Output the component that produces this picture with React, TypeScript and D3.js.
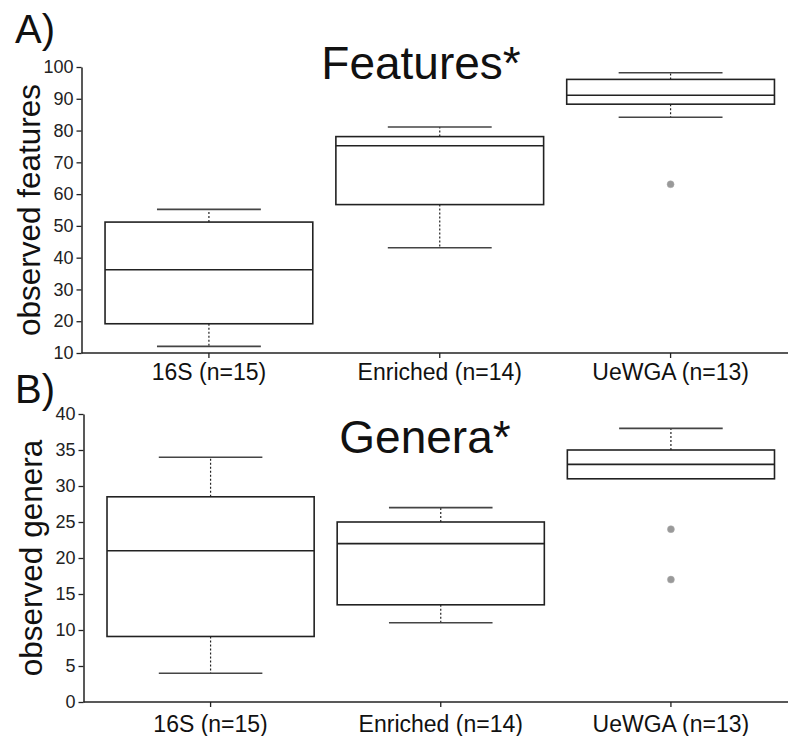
import React, { useEffect, useRef } from "react";
import * as d3 from "d3";

const categories = ["16S (n=15)", "Enriched (n=14)", "UeWGA (n=13)"];

// Panel A: observed features  [whiskerLow, q1, median, q3, whiskerHigh]
const featuresStats = [
  [12.1, 19.2, 36.2, 51.2, 55.2],
  [43.1, 56.7, 75.2, 78.1, 81.1],
  [84.2, 88.3, 91.1, 96.1, 98.2],
];
const featuresOutliers = [[], [], [63.1]];
const featuresTicks = [10, 20, 30, 40, 50, 60, 70, 80, 90, 100];

// Panel B: observed genera
const generaStats = [
  [4, 9.1, 21, 28.5, 34],
  [11, 13.5, 22, 25, 27],
  [31, 31, 33, 35, 38],
];
const generaOutliers = [[], [], [24, 17]];
const generaTicks = [0, 5, 10, 15, 20, 25, 30, 35, 40];

const FONT = "'Liberation Sans', Arial, Helvetica, sans-serif";

type Panel = {
  letter: string;
  letterY: number;
  title: string;
  titleX: number;
  titleY: number;
  ylabel: string;
  ylabelX: number;
  stats: number[][];
  outliers: number[][];
  ticks: number[];
  domain: [number, number];
  yRange: [number, number];
  axisX: number;
  catLabelY: number;
};

const panels: Panel[] = [
  {
    letter: "A)",
    letterY: 43,
    title: "Features*",
    titleX: 421,
    titleY: 79,
    ylabel: "observed features",
    ylabelX: 40,
    stats: featuresStats,
    outliers: featuresOutliers,
    ticks: featuresTicks,
    domain: [10, 100],
    yRange: [353, 67],
    axisX: 81.5,
    catLabelY: 380,
  },
  {
    letter: "B)",
    letterY: 403,
    title: "Genera*",
    titleX: 425,
    titleY: 453,
    ylabel: "observed genera",
    ylabelX: 42,
    stats: generaStats,
    outliers: generaOutliers,
    ticks: generaTicks,
    domain: [0, 40],
    yRange: [702, 414],
    axisX: 83.5,
    catLabelY: 732,
  },
];

export default function App() {
  const ref = useRef<SVGSVGElement | null>(null);

  useEffect(() => {
    const svg = d3.select(ref.current);
    svg.selectAll("*").remove();

    panels.forEach((p) => {
      const g = svg.append("g");
      const y = d3.scaleLinear().domain(p.domain).range(p.yRange);
      const x = d3
        .scaleBand()
        .domain(categories)
        .range([p.axisX + 12, 786])
        .paddingInner(0.1)
        .paddingOuter(0.05);
      const bw = x.bandwidth();
      const cx = (c: string) => (x(c) as number) + bw / 2;

      // y axis
      const yAxis = d3
        .axisLeft(y)
        .tickValues(p.ticks)
        .tickSize(5)
        .tickPadding(3)
        .tickSizeOuter(0);
      const ya = g
        .append("g")
        .attr("transform", `translate(${p.axisX},0)`)
        .call(yAxis);
      ya.select(".domain").attr("stroke", "#222").attr("stroke-width", 1.5);
      ya.selectAll(".tick line").attr("stroke", "#222").attr("stroke-width", 1.3);
      ya.selectAll(".tick text")
        .attr("font-family", FONT)
        .attr("font-size", 18)
        .attr("fill", "#222");

      // x axis
      const xAxisY = p.yRange[0];
      g.append("line")
        .attr("x1", p.axisX)
        .attr("x2", 788)
        .attr("y1", xAxisY)
        .attr("y2", xAxisY)
        .attr("stroke", "#222")
        .attr("stroke-width", 1.5);
      categories.forEach((c) => {
        g.append("line")
          .attr("x1", cx(c))
          .attr("x2", cx(c))
          .attr("y1", xAxisY)
          .attr("y2", xAxisY + 5)
          .attr("stroke", "#222")
          .attr("stroke-width", 1.3);
        g.append("text")
          .attr("x", cx(c))
          .attr("y", p.catLabelY)
          .attr("text-anchor", "middle")
          .attr("font-family", FONT)
          .attr("font-size", 23)
          .attr("fill", "#111")
          .text(c);
      });

      // boxes
      categories.forEach((c, i) => {
        const [lo, q1, med, q3, hi] = p.stats[i];
        const x0 = x(c) as number;
        const mid = cx(c);
        // whiskers
        if (hi > q3) {
          g.append("line")
            .attr("x1", mid).attr("x2", mid)
            .attr("y1", y(q3)).attr("y2", y(hi))
            .attr("stroke", "#222").attr("stroke-width", 1.2)
            .attr("stroke-dasharray", "2,2");
          g.append("line")
            .attr("x1", mid - bw / 4).attr("x2", mid + bw / 4)
            .attr("y1", y(hi)).attr("y2", y(hi))
            .attr("stroke", "#444").attr("stroke-width", 1.6);
        }
        if (lo < q1) {
          g.append("line")
            .attr("x1", mid).attr("x2", mid)
            .attr("y1", y(q1)).attr("y2", y(lo))
            .attr("stroke", "#222").attr("stroke-width", 1.2)
            .attr("stroke-dasharray", "2,2");
          g.append("line")
            .attr("x1", mid - bw / 4).attr("x2", mid + bw / 4)
            .attr("y1", y(lo)).attr("y2", y(lo))
            .attr("stroke", "#444").attr("stroke-width", 1.6);
        }
        g.append("rect")
          .attr("x", x0)
          .attr("y", y(q3))
          .attr("width", bw)
          .attr("height", y(q1) - y(q3))
          .attr("fill", "white")
          .attr("stroke", "#222")
          .attr("stroke-width", 1.6);
        g.append("line")
          .attr("x1", x0).attr("x2", x0 + bw)
          .attr("y1", y(med)).attr("y2", y(med))
          .attr("stroke", "#222").attr("stroke-width", 1.6);
        p.outliers[i].forEach((v) => {
          g.append("circle")
            .attr("cx", mid)
            .attr("cy", y(v))
            .attr("r", 3.5)
            .attr("fill", "#999")
            .attr("stroke", "#aaa")
            .attr("stroke-width", 0.5);
        });
      });

      // y label
      g.append("text")
        .attr("transform", `translate(${p.ylabelX},${(p.yRange[0] + p.yRange[1]) / 2}) rotate(-90)`)
        .attr("text-anchor", "middle")
        .attr("font-family", FONT)
        .attr("font-size", 31.5)
        .attr("fill", "#111")
        .text(p.ylabel);

      // title
      g.append("text")
        .attr("x", p.titleX)
        .attr("y", p.titleY)
        .attr("text-anchor", "middle")
        .attr("font-family", FONT)
        .attr("font-size", 46)
        .attr("fill", "#111")
        .text(p.title);

      // panel letter
      g.append("text")
        .attr("x", 15)
        .attr("y", p.letterY)
        .attr("font-family", FONT)
        .attr("font-size", 40)
        .attr("fill", "#111")
        .text(p.letter);
    });
  }, []);

  return (
    <svg
      ref={ref}
      width={788}
      height={736}
      style={{ position: "absolute", left: 0, top: 0, background: "white" }}
    />
  );
}
